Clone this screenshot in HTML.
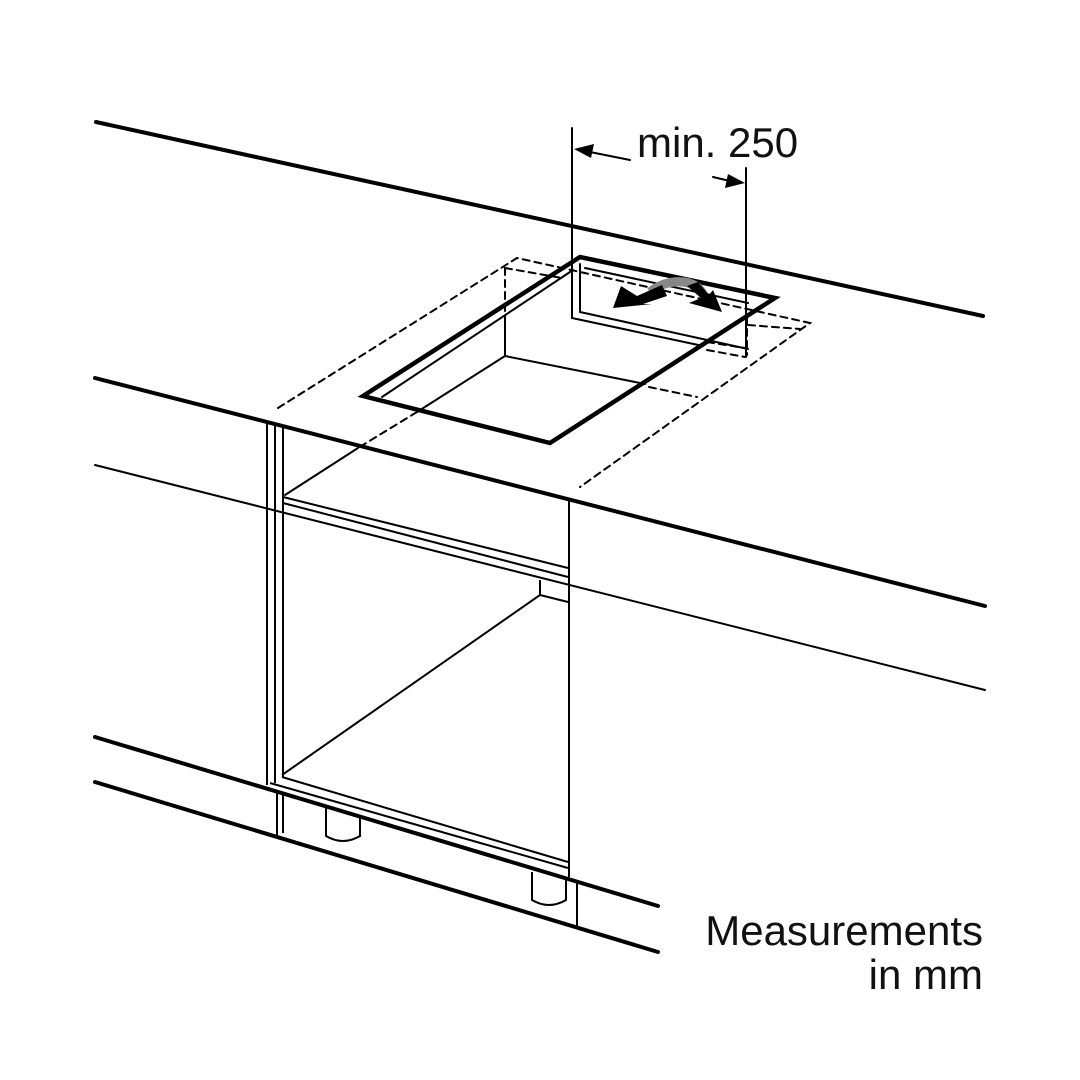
<!DOCTYPE html>
<html><head><meta charset="utf-8"><style>
html,body{margin:0;padding:0;background:#fff;}
svg{display:block;}
text{font-family:"Liberation Sans",sans-serif;fill:#111;}
</style></head><body>
<svg width="1080" height="1080" viewBox="0 0 1080 1080" xmlns="http://www.w3.org/2000/svg">
<rect width="1080" height="1080" fill="#fff"/>
<g stroke="#000" fill="none" stroke-linecap="round">
<line x1="96" y1="122" x2="983" y2="316" stroke-width="4"/>
<line x1="95" y1="378" x2="985" y2="606" stroke-width="4"/>
<line x1="95" y1="465" x2="985" y2="690" stroke-width="2"/>
<line x1="95" y1="737" x2="658" y2="906" stroke-width="4"/>
<line x1="95" y1="782" x2="658" y2="952" stroke-width="4"/>

<g stroke-width="2" stroke-dasharray="7,5">
<polyline points="278,408 517,258 810,323 580,487"/>
<polyline points="505,268 562,278"/>
<line x1="505" y1="268" x2="505" y2="322"/>
<polyline points="748,325 800,329"/>
<line x1="747" y1="317" x2="747" y2="355"/>
<line x1="707" y1="342" x2="745" y2="348"/>
<line x1="707" y1="350" x2="745" y2="357"/>
<line x1="649" y1="387" x2="697" y2="397"/>
<line x1="417" y1="412" x2="358" y2="448"/>
</g>

<polygon points="363,396 580,257 775,298 550,443" stroke-width="4.5" stroke-linejoin="miter"/>
<g stroke-width="2">
<line x1="382" y1="397" x2="573" y2="270"/>
<line x1="585" y1="268" x2="748" y2="303"/>
<line x1="572" y1="270" x2="572" y2="318"/>
<line x1="580" y1="264" x2="580" y2="312"/>
<line x1="572" y1="318" x2="703" y2="346"/>
<line x1="580" y1="312" x2="748" y2="349"/>
<line x1="505" y1="322" x2="505" y2="356"/>
<line x1="505" y1="356" x2="645" y2="384"/>
<line x1="505" y1="356" x2="417" y2="412"/>
<line x1="358" y1="448" x2="285" y2="495"/>
</g>

<g stroke-width="2">
<line x1="572" y1="128" x2="572" y2="318"/>
<line x1="746" y1="168" x2="746" y2="357"/>
<line x1="590" y1="152" x2="630" y2="160"/>
<line x1="713" y1="177" x2="730" y2="181"/>
</g>
</g>
<polygon points="574,149 594,144 591,158" fill="#000"/>
<polygon points="745,183 725,188 728,174" fill="#000"/>
<text x="637" y="157" font-size="42">min. 250</text>

<path d="M650,292 Q668,278 690,283" stroke="#888" stroke-width="9" fill="none"/>
<path d="M680,282 Q698,282 704,296" stroke="#888" stroke-width="9" fill="none"/>
<polygon points="613,308 621,286 637,296 662,285 667,296 643,304 652,304" fill="#000"/>
<polygon points="722,312 689,303 701,298 687,286 698,282 709,295 713,290" fill="#000"/>

<g stroke="#000" fill="none" stroke-width="2">
<line x1="267" y1="423" x2="267" y2="785"/>
<line x1="275" y1="425" x2="275" y2="783"/>
<line x1="283" y1="427" x2="283" y2="777"/>
<line x1="569" y1="500" x2="569" y2="877"/>
<line x1="283" y1="497" x2="568" y2="568"/>
<line x1="283" y1="503" x2="568" y2="577"/>
<line x1="540" y1="580" x2="540" y2="595"/>
<line x1="540" y1="595" x2="568" y2="602"/>
<line x1="540" y1="595" x2="282" y2="775"/>
<line x1="282" y1="777" x2="568" y2="862"/>
<line x1="270" y1="783" x2="568" y2="868"/>
<line x1="277" y1="793" x2="277" y2="835"/>
<line x1="283" y1="795" x2="283" y2="833"/>
<line x1="577" y1="882" x2="577" y2="927"/>
<path d="M326,808 L326,836 Q343,846 360,836 L360,818"/>
<path d="M532,872 L532,900 Q549,910 566,900 L566,880"/>
</g>

<text x="983" y="945" font-size="42" text-anchor="end">Measurements</text>
<text x="983" y="989" font-size="42" text-anchor="end">in mm</text>
</svg>
</body></html>
